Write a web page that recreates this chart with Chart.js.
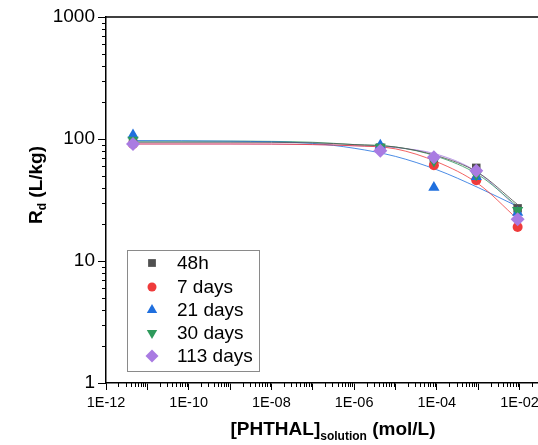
<!DOCTYPE html>
<html>
<head>
<meta charset="utf-8">
<script src="https://cdn.jsdelivr.net/npm/chart.js@4/dist/chart.umd.min.js"></script>
<style>
  html, body { margin: 0; padding: 0; background: #fff; }
  #wrap { width: 538px; height: 445px; position: relative; }
</style>
</head>
<body>
<div id="wrap"><canvas id="rdChart"></canvas></div>
<script>
// measured points: concentration (mol/L) vs Rd (L/kg)
const concentrations = [4.5e-12, 4.3e-6, 8.5e-5, 9e-4, 9e-3];
const rd48h   = [94, 85, 67, 58, 27];
const rd7d    = [91, 84, 61, 46, 19];
const rd21d   = [108, 89, 40, 49, 25];
const rd30d   = [98, 86, 66, 51, 26];
const rd113d  = [91, 80, 71, 55, 22];

// fitted curves
const fitX      = [4.5e-12, 1e-9, 1e-7, 1e-6, 1e-5, 1e-4, 1e-3, 9e-3];
const fit48h    = [94, 94, 93, 90, 86, 73, 53, 29];
const fit7d     = [91, 91, 90, 88, 83, 65, 43, 22];
const fit21d    = [97, 96, 92, 84, 72, 56, 40, 28];
const fit30d    = [96, 96, 94, 90, 86, 72, 51, 28];
const fit113d   = [91, 91, 90, 88, 85, 75, 53, 27];

const seriesNames = ['48h', '7 days', '21 days', '30 days', '113 days'];

// tick labels
const xTickValues = [1e-12, 1e-11, 1e-10, 1e-9, 1e-8, 1e-7, 1e-6, 1e-5, 1e-4, 1e-3, 1e-2];
const xTickLabels = ['1E-12', '', '1E-10', '', '1E-08', '', '1E-06', '', '1E-04', '', '1E-02'];
const yTickValues = [1, 10, 100, 1000];
const yTickLabels = ['1', '10', '100', '1000'];

const FONT = "'Liberation Sans', Arial, sans-serif";
const colors = ['#505050', '#ef3b3b', '#1f6fde', '#2e9a5c', '#a97be2'];
const shapes = ['rect', 'circle', 'triangle', 'triangle', 'rectRot'];
const rotations = [0, 0, 0, 180, 0];
const radii = [6, 5, 6.5, 6.5, 7];

const pointSets = [rd48h, rd7d, rd21d, rd30d, rd113d];
const fitSets = [fit48h, fit7d, fit21d, fit30d, fit113d];

const datasets = [];
pointSets.forEach((vals, i) => {
    datasets.push({
        label: seriesNames[i],
        data: concentrations.map((c, j) => ({ x: c, y: vals[j] })),
        showLine: false,
        pointStyle: shapes[i],
        rotation: rotations[i],
        pointRadius: radii[i],
        pointBackgroundColor: colors[i],
        pointBorderColor: colors[i],
        pointBorderWidth: 0,
        order: 5 - i
    });
});
fitSets.forEach((vals, i) => {
    datasets.push({
        label: seriesNames[i] + ' fit',
        data: fitX.map((c, j) => ({ x: c, y: vals[j] })),
        showLine: true,
        borderColor: colors[i] + 'cc',
        borderWidth: 1,
        pointRadius: 0,
        cubicInterpolationMode: 'monotone',
        order: 10
    });
});

// minor ticks, frame, titles and legend
const decorPlugin = {
    id: 'decor',
    afterDraw(chart) {
        const ctx = chart.ctx;
        const xs = chart.scales.x, ys = chart.scales.y;
        const area = chart.chartArea;
        ctx.save();
        ctx.strokeStyle = '#000';
        ctx.lineWidth = 1.5;
        // top frame line
        ctx.beginPath();
        ctx.moveTo(area.left, area.top);
        ctx.lineTo(area.right, area.top);
        ctx.stroke();
        ctx.lineWidth = 1;
        // minor ticks x
        ctx.beginPath();
        for (let e = -12; e <= -2; e++) {
            for (let m = 2; m <= 9; m++) {
                const v = m * Math.pow(10, e);
                if (v > xs.max) continue;
                const px = Math.round(xs.getPixelForValue(v)) + 0.5;
                ctx.moveTo(px, area.bottom);
                ctx.lineTo(px, area.bottom + 4);
            }
        }
        // minor ticks y
        for (let e = 0; e < 3; e++) {
            for (let m = 2; m <= 9; m++) {
                const py = Math.round(ys.getPixelForValue(m * Math.pow(10, e))) + 0.5;
                ctx.moveTo(area.left, py);
                ctx.lineTo(area.left - 4, py);
            }
        }
        ctx.stroke();

        ctx.fillStyle = '#000';
        // x title with subscript
        const big = 'bold 19px ' + FONT, small = 'bold 12px ' + FONT;
        const p1 = '[PHTHAL]', p2 = 'solution', p3 = ' (mol/L)';
        ctx.font = big; const w1 = ctx.measureText(p1).width, w3 = ctx.measureText(p3).width;
        ctx.font = small; const w2 = ctx.measureText(p2).width;
        let x0 = 333 - (w1 + w2 + w3) / 2;
        const base = 435;
        ctx.textBaseline = 'alphabetic';
        ctx.textAlign = 'left';
        ctx.font = big; ctx.fillText(p1, x0, base);
        ctx.font = small; ctx.fillText(p2, x0 + w1, base + 5);
        ctx.font = big; ctx.fillText(p3, x0 + w1 + w2, base);

        // y title, rotated
        ctx.save();
        ctx.translate(42, 185);
        ctx.rotate(-Math.PI / 2);
        const q1 = 'R', q2 = 'd', q3 = ' (L/kg)';
        ctx.font = big; const v1 = ctx.measureText(q1).width, v3 = ctx.measureText(q3).width;
        ctx.font = small; const v2 = ctx.measureText(q2).width;
        let y0 = -(v1 + v2 + v3) / 2;
        ctx.font = big; ctx.fillText(q1, y0, 0);
        ctx.font = small; ctx.fillText(q2, y0 + v1, 4);
        ctx.font = big; ctx.fillText(q3, y0 + v1 + v2, 0);
        ctx.restore();

        // legend box
        ctx.strokeStyle = '#8a8a8a';
        ctx.strokeRect(127.5, 250.5, 132, 121);
        const rowY = [263, 287, 310, 333, 356];
        ctx.font = '19px ' + FONT;
        ctx.textBaseline = 'middle';
        seriesNames.forEach((name, i) => {
            ctx.save();
            ctx.fillStyle = colors[i];
            Chart.helpers.drawPoint(ctx, {
                pointStyle: shapes[i], rotation: rotations[i], radius: radii[i] - 0.5, borderWidth: 0
            }, 152, rowY[i]);
            ctx.restore();
            ctx.fillStyle = '#000';
            ctx.fillText(name, 177, rowY[i] + 1);
        });
        ctx.restore();
    }
};

new Chart(document.getElementById('rdChart').getContext('2d'), {
    type: 'scatter',
    data: { datasets: datasets },
    options: {
        responsive: true,
        maintainAspectRatio: false,
        animation: false,
        layout: { autoPadding: false, padding: { top: 17, right: 0, left: 0, bottom: 0 } },
        plugins: { legend: { display: false }, tooltip: { enabled: false } },
        scales: {
            x: {
                type: 'logarithmic',
                min: 1e-12,
                max: 0.028,
                afterBuildTicks: (s) => { s.ticks = xTickValues.map(v => ({ value: v })); },
                afterFit: (s) => { s.height = 62; s.paddingRight = 0; s.paddingLeft = 0; },
                border: { color: '#000', width: 1.5 },
                grid: { drawOnChartArea: false, tickLength: 7, color: '#000', tickWidth: 1 },
                ticks: {
                    autoSkip: false,
                    maxRotation: 0,
                    padding: 4,
                    color: '#000',
                    font: { family: FONT, size: 14.5 },
                    callback: (v, i) => xTickLabels[i]
                }
            },
            y: {
                type: 'logarithmic',
                min: 1,
                max: 1000,
                afterBuildTicks: (s) => { s.ticks = yTickValues.map(v => ({ value: v })); },
                afterFit: (s) => { s.width = 106; s.paddingTop = 0; s.paddingBottom = 0; },
                border: { color: '#000', width: 1.5 },
                grid: { drawOnChartArea: false, tickLength: 8, color: '#000', tickWidth: 1 },
                ticks: {
                    autoSkip: false,
                    padding: 3,
                    color: '#000',
                    font: { family: FONT, size: 19 },
                    callback: (v, i) => yTickLabels[i]
                }
            }
        }
    },
    plugins: [decorPlugin]
});
</script>
</body>
</html>
